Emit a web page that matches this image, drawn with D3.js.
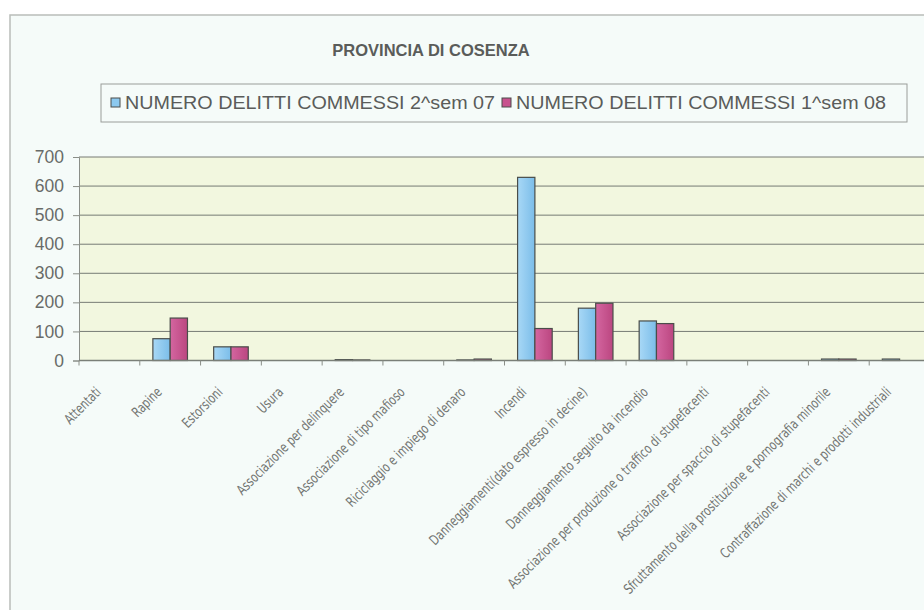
<!DOCTYPE html>
<html>
<head>
<meta charset="utf-8">
<script src="https://cdn.jsdelivr.net/npm/d3@7"></script>
<style>
  body { margin: 0; background: #ffffff; }
  svg { display: block; }
</style>
</head>
<body>
<script>
// categories and values
var categories = [
  "Attentati",
  "Rapine",
  "Estorsioni",
  "Usura",
  "Associazione per delinquere",
  "Associazione di tipo mafioso",
  "Riciclaggio e impiego di denaro",
  "Incendi",
  "Danneggiamenti(dato espresso in decine)",
  "Danneggiamento seguito da incendio",
  "Associazione per produzione o traffico di stupefacenti",
  "Associazione per spaccio di stupefacenti",
  "Sfruttamento della prostituzione e pornografia minorile",
  "Contraffazione di marchi e prodotti industriali"
];
var sem2_07 = [0, 75, 47, 0, 3, 0, 2, 630, 180, 136, 0, 0, 5, 5];
var sem1_08 = [0, 146, 47, 0, 2, 0, 5, 110, 197, 127, 0, 0, 5, 0];
var seriesNames = ["NUMERO DELITTI COMMESSI 2^sem 07", "NUMERO DELITTI COMMESSI 1^sem 08"];
var yTicks = [0, 100, 200, 300, 400, 500, 600, 700];

var W = 924, H = 610;
var plot = {left: 79, right: 930, top: 157, bottom: 360.5};

var svg = d3.select("body").append("svg")
    .attr("width", W)
    .attr("height", H);

// gradients for bars
var defs = svg.append("defs");
var gBlue = defs.append("linearGradient").attr("id", "gBlue");
gBlue.append("stop").attr("offset", "0%").attr("stop-color", "#a8d8f6");
gBlue.append("stop").attr("offset", "100%").attr("stop-color", "#7bbde9");
var gPink = defs.append("linearGradient").attr("id", "gPink");
gPink.append("stop").attr("offset", "0%").attr("stop-color", "#d466a0");
gPink.append("stop").attr("offset", "100%").attr("stop-color", "#bb4680");
var fills = ["url(#gBlue)", "url(#gPink)"];
var legendFills = ["#8cc9ef", "#c8528e"];

// chart area background and border
svg.append("rect")
    .attr("x", 10).attr("y", 15)
    .attr("width", W).attr("height", H)
    .attr("fill", "#f5fbf9")
    .attr("stroke", "#b9bdb9")
    .attr("stroke-width", 1.5);

// scales
var x = d3.scaleBand().domain(categories).range([plot.left, plot.right]);
var x1 = d3.scaleBand().domain([0, 1]).range([0, x.bandwidth()]).paddingOuter(0.757);
var y = d3.scaleLinear().domain([0, 700]).range([plot.bottom, plot.top]);

// plot background
svg.append("rect")
    .attr("x", plot.left).attr("y", plot.top)
    .attr("width", plot.right - plot.left).attr("height", plot.bottom - plot.top)
    .attr("fill", "#f2f7df");

// gridlines
svg.append("g")
    .selectAll("line")
    .data(yTicks.slice(1))
    .enter().append("line")
    .attr("x1", plot.left).attr("x2", plot.right)
    .attr("y1", function(d) { return y(d); })
    .attr("y2", function(d) { return y(d); })
    .attr("stroke", "#767b74")
    .attr("stroke-width", 1);

// y axis
var yAxis = svg.append("g")
    .attr("transform", "translate(" + plot.left + ",0)")
    .call(d3.axisLeft(y).tickValues(yTicks).tickSize(6).tickPadding(9));
yAxis.select(".domain").attr("stroke", "#8a8e88");
yAxis.selectAll(".tick line").attr("stroke", "#8a8e88");
yAxis.selectAll("text")
    .attr("fill", "#686b68")
    .style("font-family", "Liberation Sans, Arial, sans-serif")
    .style("font-size", "17.5px");

// bars
var groups = svg.append("g")
    .selectAll("g")
    .data(categories)
    .enter().append("g")
    .attr("transform", function(d) { return "translate(" + x(d) + ",0)"; });

groups.selectAll("rect")
    .data(function(d, i) { return [sem2_07[i], sem1_08[i]]; })
    .enter().append("rect")
    .filter(function(d) { return d > 0; })
    .attr("x", function(d, j) { return x1(j); })
    .attr("y", function(d) { return y(d); })
    .attr("width", x1.bandwidth())
    .attr("height", function(d) { return y(0) - y(d); })
    .attr("fill", function(d, j) { return fills[j]; })
    .attr("stroke", "#4a4d4a")
    .attr("stroke-width", 1.2);

// x axis with ticks between categories
var xAxis = svg.append("g")
    .attr("transform", "translate(0," + plot.bottom + ")");
xAxis.append("line")
    .attr("x1", plot.left).attr("x2", plot.right)
    .attr("stroke", "#7a7f78").attr("stroke-width", 1.5);
xAxis.selectAll(".xt")
    .data(categories)
    .enter().append("line")
    .attr("class", "xt")
    .attr("x1", function(d) { return x(d); })
    .attr("x2", function(d) { return x(d); })
    .attr("y1", 0).attr("y2", 5)
    .attr("stroke", "#8a8e88");

// slanted category labels, narrow and tall like the original
xAxis.selectAll(".xl")
    .data(categories)
    .enter().append("text")
    .attr("class", "xl")
    .attr("transform", function(d) {
        return "translate(" + (x(d) + x.bandwidth() / 2 - 11) + ",29) rotate(-45) scale(0.82,1)";
    })
    .attr("text-anchor", "end")
    .attr("dy", "0.35em")
    .attr("fill", "#727572")
    .style("font-family", "Liberation Sans Narrow, DejaVu Sans Condensed, sans-serif")
    .style("font-size", "14px")
    .text(function(d) { return d; });

// title
svg.append("text")
    .attr("x", 431)
    .attr("y", 56)
    .attr("text-anchor", "middle")
    .attr("fill", "#5a5c5a")
    .style("font-family", "Liberation Sans, Arial, sans-serif")
    .style("font-size", "16.5px")
    .style("font-weight", "bold")
    .text("PROVINCIA DI COSENZA");

// legend
var legend = svg.append("g");
legend.append("rect")
    .attr("x", 101).attr("y", 84)
    .attr("width", 806).attr("height", 38)
    .attr("fill", "none")
    .attr("stroke", "#9a9d9a");
var legendX = [111, 502];
seriesNames.forEach(function(name, i) {
    legend.append("rect")
        .attr("x", legendX[i]).attr("y", 98)
        .attr("width", 9).attr("height", 9)
        .attr("fill", legendFills[i])
        .attr("stroke", "#4a4d4a");
    legend.append("text")
        .attr("x", legendX[i] + 14)
        .attr("y", 109)
        .attr("fill", "#5a5c5a")
        .style("font-family", "Liberation Sans, Arial, sans-serif")
        .style("font-size", "17.5px")
        .attr("textLength", 370)
        .attr("lengthAdjust", "spacingAndGlyphs")
        .text(name);
});
</script>
</body>
</html>
